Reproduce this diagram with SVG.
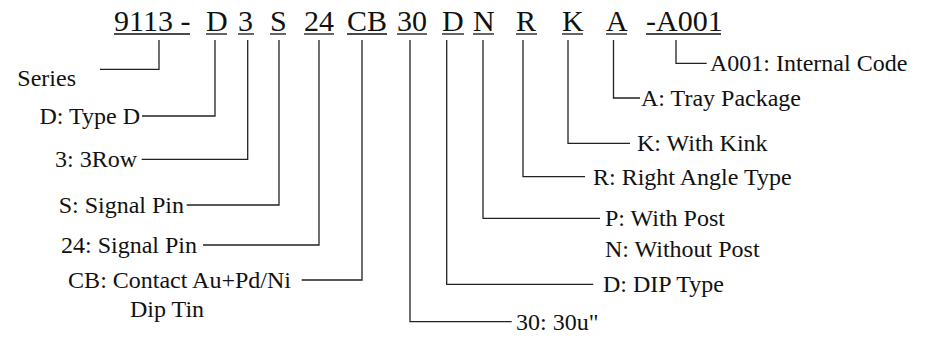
<svg xmlns="http://www.w3.org/2000/svg" width="933" height="342" viewBox="0 0 933 342">
<style>
.code{font-family:"Liberation Serif","Times New Roman",serif;font-size:30px;fill:#111}
.lbl{font-family:"Liberation Serif","Times New Roman",serif;font-size:24px;fill:#111}
.end{text-anchor:end}
.ul{stroke:#111;stroke-width:1.3;fill:none}
.conn path{stroke:#222;stroke-width:1.3;fill:none}
</style>
<rect width="933" height="342" fill="#fff"/>
<g id="code">
<g id="p-series"><text class="code" x="114" y="31">9113 -</text><line class="ul" x1="114" y1="34" x2="190" y2="34"/></g>
<g id="p-type"><text class="code" x="206" y="31">D</text><line class="ul" x1="206" y1="34" x2="227" y2="34"/></g>
<g id="p-row"><text class="code" x="238" y="31">3</text><line class="ul" x1="238" y1="34" x2="254" y2="34"/></g>
<g id="p-s"><text class="code" x="270" y="31">S</text><line class="ul" x1="270" y1="34" x2="286" y2="34"/></g>
<g id="p-24"><text class="code" x="304" y="31">24</text><line class="ul" x1="304" y1="34" x2="334" y2="34"/></g>
<g id="p-cb"><text class="code" x="347" y="31">CB</text><line class="ul" x1="347" y1="34" x2="387" y2="34"/></g>
<g id="p-30"><text class="code" x="397" y="31">30</text><line class="ul" x1="397" y1="34" x2="427" y2="34"/></g>
<g id="p-d"><text class="code" x="442" y="31">D</text><line class="ul" x1="442" y1="34" x2="464" y2="34"/></g>
<g id="p-n"><text class="code" x="473" y="31">N</text><line class="ul" x1="473" y1="34" x2="494" y2="34"/></g>
<g id="p-r"><text class="code" x="516" y="31">R</text><line class="ul" x1="516" y1="34" x2="537" y2="34"/></g>
<g id="p-k"><text class="code" x="562" y="31">K</text><line class="ul" x1="562" y1="34" x2="583" y2="34"/></g>
<g id="p-a"><text class="code" x="606" y="31">A</text><line class="ul" x1="606" y1="34" x2="627" y2="34"/></g>
<g id="p-a001"><text class="code" x="646" y="31">-A001</text><line class="ul" x1="646" y1="34" x2="721" y2="34"/></g>
</g>
<g id="connectors" class="conn">
<path d="M159 40V69.3H100"/>
<path d="M215 40V116H142"/>
<path d="M247.7 40V159.3H141.7"/>
<path d="M279 40V205H186.7"/>
<path d="M319 40V245H203"/>
<path d="M362 40V280H301.7"/>
<path d="M410 40V321.7H511.7"/>
<path d="M446.7 40V284.3H593.3"/>
<path d="M483 40V218.3H600"/>
<path d="M523 40V176.7H585"/>
<path d="M568 40V143.3H630"/>
<path d="M613.5 40V98H640"/>
<path d="M676 40V63.3H706.7"/>
</g>
<g id="l-series"><text class="lbl end" x="76" y="86">Series</text></g>
<g id="l-type"><text class="lbl end" x="140" y="124">D: Type D</text></g>
<g id="l-row"><text class="lbl end" x="137" y="167">3: 3Row</text></g>
<g id="l-s"><text class="lbl end" x="184" y="213">S: Signal Pin</text></g>
<g id="l-24"><text class="lbl end" x="197" y="253">24: Signal Pin</text></g>
<g id="l-cb"><text class="lbl end" x="291" y="288">CB: Contact Au+Pd/Ni</text><text class="lbl" x="130" y="317">Dip Tin</text></g>
<g id="l-30"><text class="lbl" x="516" y="330">30: 30u"</text></g>
<g id="l-d"><text class="lbl" x="603" y="292">D: DIP Type</text></g>
<g id="l-n"><text class="lbl" x="605" y="226">P: With Post</text><text class="lbl" x="605" y="257">N: Without Post</text></g>
<g id="l-r"><text class="lbl" x="593" y="185">R: Right Angle Type</text></g>
<g id="l-k"><text class="lbl" x="637" y="151">K: With Kink</text></g>
<g id="l-a"><text class="lbl" x="641" y="106">A: Tray Package</text></g>
<g id="l-a001"><text class="lbl" x="710" y="71">A001: Internal Code</text></g>
</svg>
